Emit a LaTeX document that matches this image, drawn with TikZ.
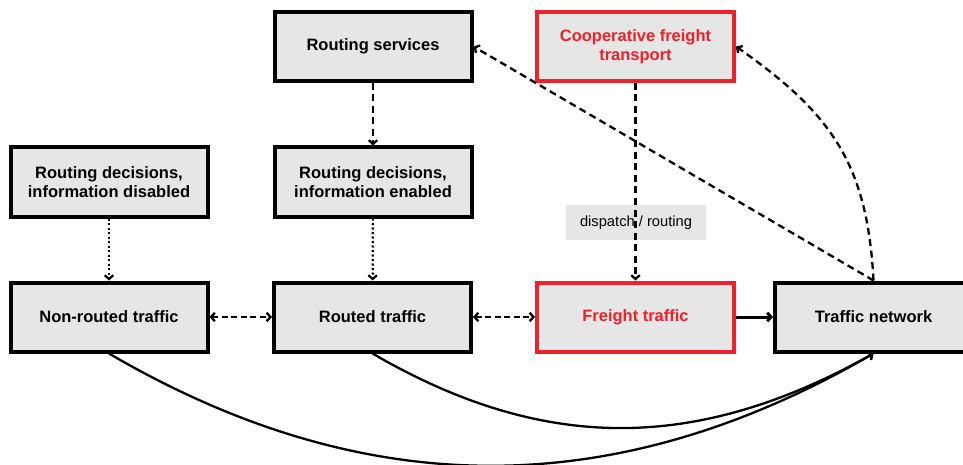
\documentclass[tikz,border=0pt]{standalone}
\usepackage{fontspec}
\setmainfont{Liberation Sans}
\usetikzlibrary{arrows.meta}
\definecolor{boxgray}{HTML}{E6E6E6}
\definecolor{fred}{HTML}{ED2129}
\begin{document}
\begin{tikzpicture}[x=1pt,y=-1pt,
  box/.style={draw=black, line width=4pt, fill=boxgray, minimum width=197pt, minimum height=69pt, inner sep=0pt, align=center, font=\fontsize{16.5}{19}\selectfont\bfseries},
  redbox/.style={box, draw=fred, text=fred},
  tip/.tip={Straight Barb[length=3.8pt,width=8.5pt]},
  dashedc/.style={line width=2.3pt, dash pattern=on 7pt off 4.5pt, -tip},
  dottedc/.style={line width=2.2pt, dash pattern=on 2pt off 2.5pt, -tip},
  solidc/.style={line width=2.3pt, -tip},
  lbl/.style={fill=boxgray, minimum width=140pt, minimum height=35pt, inner sep=0pt, font=\fontsize{14.7}{17}\selectfont}
]
\useasboundingbox (0,0) rectangle (963,465);
\node[box] (rs) at (373,46.5) {Routing services};
\node[redbox] (coop) at (635.5,46.5) {Cooperative freight\\transport};
\node[box] (rdd) at (109,182) {Routing decisions,\\information disabled};
\node[box] (rde) at (373,182) {Routing decisions,\\information enabled};
\node[box] (nrt) at (109,317) {Non-routed traffic};
\node[box] (rt) at (372.5,317) {Routed traffic};
\node[redbox] (ft) at (635.5,317) {Freight traffic};
\node[box] (tn) at (873.5,317) {Traffic network};
\node[lbl] (lab) at (636,222.5) {dispatch / routing};
\draw[dashedc] (rs) -- (rde);
\draw[dottedc] (rdd) -- (nrt);
\draw[dottedc] (rde) -- (rt);
\draw[dashedc] (coop) -- (ft);
\draw[dashedc, dash pattern=on 6pt off 3.5pt, tip-tip] (nrt) -- (rt);
\draw[dashedc, dash pattern=on 6pt off 3.5pt, tip-tip] (rt) -- (ft);
\draw[solidc, line width=3pt] (ft) -- (tn);
\draw[dashedc] (tn.north) -- (rs.east);
\draw[dashedc] (tn.north) to[out=93,in=-35,looseness=1.1] (coop.east);
\draw[solidc] (nrt.south) .. controls (365,503) and (615,503) .. (tn.south);
\draw[solidc] (rt.south) .. controls (543,452.7) and (696,452.7) .. (tn.south);
\end{tikzpicture}
\end{document}
